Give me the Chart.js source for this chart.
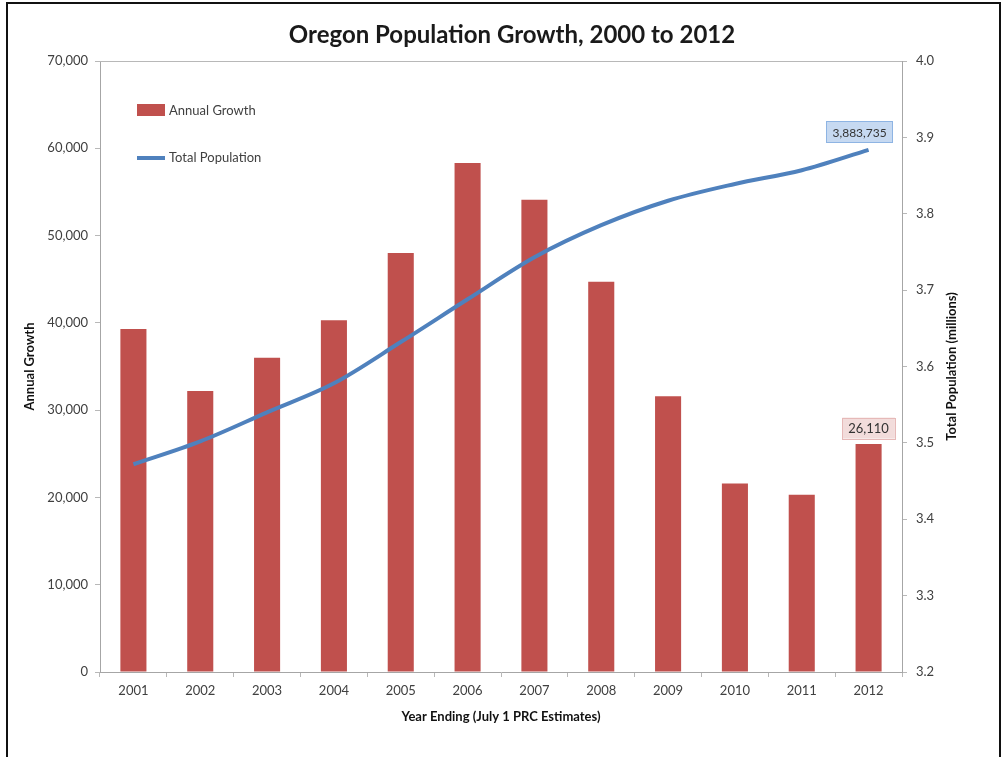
<!DOCTYPE html>
<html>
<head>
<meta charset="utf-8">
<script src="https://cdn.jsdelivr.net/npm/chart.js@4/dist/chart.umd.min.js"></script>
<style>
  html, body { margin: 0; padding: 0; background: #fff; }
  #wrap { position: relative; width: 1003px; height: 757px; }
  #frame { position: absolute; left: 6px; top: 2px; width: 991px; height: 760px; border: 2px solid #111; border-bottom: none; pointer-events: none; }
  canvas { position: absolute; left: 0; top: 0; }
</style>
</head>
<body>
<div id="wrap">
  <canvas id="myChart" width="1003" height="757"></canvas>
  <div id="frame"></div>
</div>
<script>
const years = ['2001', '2002', '2003', '2004', '2005', '2006', '2007', '2008', '2009', '2010', '2011', '2012'];
const annualGrowth = [39300, 32200, 36000, 40300, 48000, 58300, 54100, 44700, 31600, 21600, 20300, 26110];
const totalPopulation = [3.472, 3.502, 3.540, 3.578, 3.632, 3.688, 3.743, 3.785, 3.817, 3.839, 3.857, 3.883735];
const growthTicks = [0, 10000, 20000, 30000, 40000, 50000, 60000, 70000];
const popTicks = [3.2, 3.3, 3.4, 3.5, 3.6, 3.7, 3.8, 3.9, 4.0];

const FONT = 'Lato, Calibri, Carlito, sans-serif';
const TXT = '#404040';

const decorations = {
  id: 'decorations',
  beforeDatasetsDraw(chart) {
    const { ctx, chartArea: a } = chart;
    ctx.save();
    ctx.strokeStyle = '#b8b8b8';
    ctx.lineWidth = 1;
    ctx.beginPath();
    ctx.moveTo(a.left, a.top + 0.5);
    ctx.lineTo(a.right, a.top + 0.5);
    ctx.stroke();
    ctx.restore();
  },
  afterDraw(chart) {
    const { ctx, chartArea: a } = chart;
    ctx.save();
    // title
    ctx.fillStyle = '#1a1a1a';
    ctx.font = 'bold 24px ' + FONT;
    ctx.textAlign = 'center';
    ctx.textBaseline = 'middle';
    ctx.fillText('Oregon Population Growth, 2000 to 2012', 512, 35);

    // right axis title (reads bottom to top)
    ctx.font = 'bold 13px ' + FONT;
    ctx.fillStyle = '#111';
    ctx.translate(952, (a.top + a.bottom) / 2);
    ctx.rotate(-Math.PI / 2);
    ctx.fillText('Total Population (millions)', 0, 0);
    ctx.setTransform(1, 0, 0, 1, 0, 0);

    // legend inside plot area
    const lx = a.left + 37;
    ctx.fillStyle = '#C0504D';
    ctx.fillRect(lx, 104, 28, 12);
    ctx.strokeStyle = '#4F81BD';
    ctx.lineWidth = 4;
    ctx.beginPath();
    ctx.moveTo(lx, 158);
    ctx.lineTo(lx + 28, 158);
    ctx.stroke();
    ctx.fillStyle = TXT;
    ctx.font = '13px ' + FONT;
    ctx.textAlign = 'left';
    ctx.fillText('Annual Growth', lx + 32, 111);
    ctx.fillText('Total Population', lx + 32, 158);

    // data callouts for last year
    const last = years.length - 1;
    const barEl = chart.getDatasetMeta(0).data[last];
    const lineEl = chart.getDatasetMeta(1).data[last];
    ctx.textAlign = 'center';
    function callout(text, cx, cy, fill, stroke, size) {
      ctx.font = size + 'px ' + FONT;
      const w = ctx.measureText(text).width + 12;
      const h = 21;
      ctx.fillStyle = fill;
      ctx.fillRect(cx - w / 2, cy - h / 2, w, h);
      ctx.strokeStyle = stroke;
      ctx.lineWidth = 1;
      ctx.strokeRect(Math.round(cx - w / 2) + 0.5, Math.round(cy - h / 2) + 0.5, Math.round(w), h);
      ctx.fillStyle = '#333';
      ctx.fillText(text, cx, cy + 1);
    }
    callout(annualGrowth[last].toLocaleString('en-US'), barEl.x, barEl.y - 16, '#F2DCDB', '#E6B9B8', 13);
    callout(Math.round(totalPopulation[last] * 1e6).toLocaleString('en-US'), lineEl.x - 9, lineEl.y - 18, '#C6D9F1', '#8EB4E3', 12);
    ctx.restore();
  }
};

const ctx = document.getElementById('myChart');

new Chart(ctx, {
  type: 'bar',
  data: {
    labels: years,
    datasets: [
      {
        type: 'bar',
        label: 'Annual Growth',
        data: annualGrowth,
        backgroundColor: '#C0504D',
        yAxisID: 'y',
        categoryPercentage: 1,
        barPercentage: 0.39,
        order: 2
      },
      {
        type: 'line',
        label: 'Total Population',
        data: totalPopulation,
        borderColor: '#4F81BD',
        borderWidth: 4,
        pointRadius: 0,
        cubicInterpolationMode: 'monotone',
        yAxisID: 'y1',
        order: 1
      }
    ]
  },
  options: {
    responsive: false,
    animation: false,
    layout: { padding: { top: 61, left: 0, right: 0, bottom: 0 } },
    plugins: {
      legend: { display: false },
      tooltip: { enabled: false }
    },
    scales: {
      x: {
        afterFit: s => { s.height = 85; },
        grid: { offset: true, drawOnChartArea: false, tickLength: 5, color: '#b8b8b8' },
        border: { color: '#a6a6a6' },
        ticks: { color: TXT, font: { family: FONT, size: 13 }, padding: 6 },
        title: {
          display: true,
          text: 'Year Ending (July 1 PRC Estimates)',
          color: '#111',
          font: { family: FONT, size: 13, weight: 'bold' },
          padding: { bottom: 32 }
        }
      },
      y: {
        position: 'left',
        min: 0,
        max: 70000,
        afterFit: s => { s.width = 100; },
        afterBuildTicks: s => { s.ticks = growthTicks.map(v => ({ value: v })); },
        grid: { drawOnChartArea: false, tickLength: 5, color: '#b8b8b8' },
        border: { color: '#a6a6a6' },
        ticks: {
          color: TXT,
          font: { family: FONT, size: 13 },
          padding: 7,
          callback: v => v.toLocaleString('en-US')
        },
        title: {
          display: true,
          text: 'Annual Growth',
          color: '#111',
          font: { family: FONT, size: 13, weight: 'bold' },
          padding: { top: 22 }
        }
      },
      y1: {
        position: 'right',
        min: 3.2,
        max: 4.0,
        afterFit: s => { s.width = 101; },
        afterBuildTicks: s => { s.ticks = popTicks.map(v => ({ value: v })); },
        grid: { drawOnChartArea: false, tickLength: 5, color: '#b8b8b8' },
        border: { color: '#a6a6a6' },
        ticks: {
          color: TXT,
          font: { family: FONT, size: 13 },
          padding: 9,
          callback: v => v.toFixed(1)
        }
      }
    }
  },
  plugins: [decorations]
});
</script>
</body>
</html>
